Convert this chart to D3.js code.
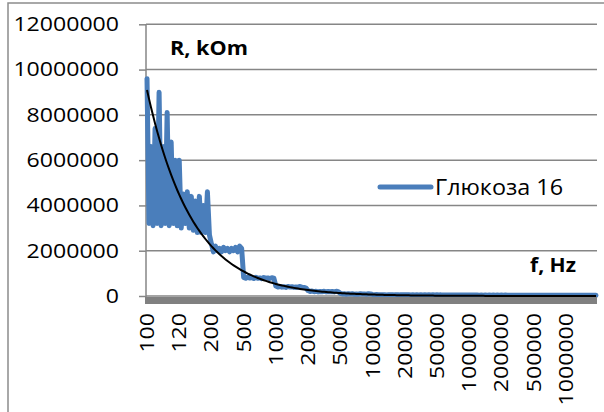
<!DOCTYPE html>
<html>
<head>
<meta charset="utf-8">
<script src="https://cdn.jsdelivr.net/npm/d3@7"></script>
<style>
  body { margin: 0; background: #fff; }
  text { font-family: 'Open Sans', sans-serif; fill: #000; }
</style>
</head>
<body>
<svg id="chart" width="604" height="412"></svg>
<script>
// frequency labels (one per block of repeated measurements)
const freqLabels = ['100', '120', '200', '500', '1000', '2000', '5000', '10000',
  '20000', '50000', '100000', '200000', '500000', '1000000']

// R values, 16 readings per frequency
const r100 = [9.6e6, 3.2e6, 6.6e6, 3.1e6, 7.4e6, 3.2e6, 9.0e6, 3.1e6,
  6.6e6, 3.2e6, 8.1e6, 3.1e6, 6.8e6, 3.2e6, 6.0e6, 3.1e6]
const r120 = [6.0e6, 3.0e6, 4.5e6, 3.2e6, 4.6e6, 3.0e6, 4.4e6, 2.9e6,
  4.2e6, 2.8e6, 4.4e6, 2.8e6, 4.0e6, 2.8e6, 4.6e6, 2.7e6]
const r200 = [2.3e6, 1.95e6, 2.2e6, 2.0e6, 2.1e6, 1.95e6, 2.15e6, 2.0e6,
  2.1e6, 1.95e6, 2.1e6, 2.0e6, 2.15e6, 1.95e6, 2.2e6, 2.1e6]
const r500 = [820000, 780000, 840000, 790000, 810000, 770000, 830000, 780000,
  800000, 760000, 820000, 780000, 800000, 770000, 810000, 790000]
const r1000 = [440000, 400000, 420000, 390000, 410000, 380000, 420000, 400000,
  410000, 380000, 400000, 390000, 420000, 380000, 380000, 350000]
const r2000 = [240000, 200000, 220000, 190000, 210000, 180000, 200000, 190000,
  210000, 180000, 200000, 190000, 200000, 180000, 210000, 190000]
const r5000 = [120000, 90000, 100000, 80000, 100000, 90000, 100000, 80000,
  90000, 80000, 100000, 90000, 90000, 80000, 100000, 90000]
const r10000 = [70000, 60000, 65000, 55000, 60000, 55000, 60000, 50000,
  60000, 55000, 60000, 50000, 55000, 50000, 60000, 55000]
const r20000 = [55000, 50000, 55000, 45000, 50000, 45000, 50000, 45000,
  50000, 45000, 50000, 45000, 50000, 45000, 50000, 45000]
const r50000 = [50000, 45000, 50000, 40000, 45000, 40000, 45000, 40000,
  45000, 40000, 45000, 40000, 45000, 40000, 45000, 40000]
const r100000 = [45000, 40000, 45000, 40000, 40000, 38000, 42000, 38000,
  42000, 38000, 40000, 38000, 42000, 38000, 40000, 38000]
const r200000 = [40000, 36000, 40000, 36000, 38000, 35000, 38000, 35000,
  38000, 35000, 38000, 35000, 38000, 35000, 38000, 35000]
const r500000 = [36000, 33000, 35000, 32000, 35000, 32000, 34000, 32000,
  34000, 32000, 34000, 31000, 34000, 31000, 33000, 31000]
const r1000000 = [33000, 30000, 32000, 30000, 32000, 29000, 31000, 29000,
  31000, 29000, 30000, 28000, 30000, 28000, 30000, 28000]

const seriesName = 'Глюкоза 16'
const yTicks = [0, 2000000, 4000000, 6000000, 8000000, 10000000, 12000000]

// exponential trendline: start value and decay per frequency block
const trendStart = 9.1e6
const trendDecayPerBlock = 0.709

const blocks = [r100, r120, r200, r500, r1000, r2000, r5000, r10000,
  r20000, r50000, r100000, r200000, r500000, r1000000]
const perBlock = r100.length

const data = []
blocks.forEach((b, bi) => b.forEach((v, j) => data.push({ i: bi * perBlock + j, value: v })))

const svg = d3.select('#chart')
const plotLeft = 146, plotRight = 597, plotTop = 24.3, zeroY = 296
const digitW = 13.2 // wide digits of the original font

const x = d3.scalePoint().domain(data.map(d => d.i)).range([plotLeft, plotRight]).padding(0.5)
const y = d3.scaleLinear().domain([0, 12000000]).range([zeroY, plotTop])

// outer frame
svg.append('rect')
  .attr('x', 8).attr('y', 3).attr('width', 640).attr('height', 440)
  .attr('fill', 'none').attr('stroke', '#8c8c8c').attr('stroke-width', 1.5)

// gridlines
svg.append('g')
  .selectAll('line')
  .data(yTicks)
  .enter()
  .append('line')
  .attr('x1', plotLeft).attr('x2', plotRight)
  .attr('y1', d => y(d)).attr('y2', d => y(d))
  .attr('stroke', '#868686').attr('stroke-width', 1.5)

// y axis
const yAxis = svg.append('g')
  .attr('transform', `translate(${plotLeft},0)`)
  .call(d3.axisLeft(y).tickValues(yTicks).tickSize(7).tickPadding(20).tickFormat(d3.format('d')))
yAxis.select('.domain').remove()
yAxis.selectAll('.tick line').attr('stroke', '#868686').attr('stroke-width', 1.5)
yAxis.selectAll('.tick text')
  .attr('font-family', "'Open Sans', sans-serif")
  .attr('font-size', '20px')
  .attr('fill', '#000')
  .attr('textLength', function () { return this.textContent.length * digitW })
  .attr('lengthAdjust', 'spacingAndGlyphs')
svg.append('line')
  .attr('x1', plotLeft).attr('x2', plotLeft).attr('y1', plotTop).attr('y2', zeroY + 8)
  .attr('stroke', '#868686').attr('stroke-width', 1.5)

// series line
const line = d3.line().x(d => x(d.i)).y(d => y(d.value))
svg.append('path')
  .datum(data)
  .attr('d', line)
  .attr('fill', 'none')
  .attr('stroke', '#4a7ebb')
  .attr('stroke-width', 5)
  .attr('stroke-linejoin', 'round')
  .attr('stroke-linecap', 'round')

// trendline
const trend = data.map(d => ({ i: d.i, value: trendStart * Math.exp(-trendDecayPerBlock * d.i / perBlock) }))
svg.append('path')
  .datum(trend)
  .attr('d', line)
  .attr('fill', 'none')
  .attr('stroke', '#000')
  .attr('stroke-width', 2)

// horizontal axis band
svg.append('rect')
  .attr('x', plotLeft - 1).attr('y', zeroY + 1)
  .attr('width', plotRight - plotLeft + 1).attr('height', 7)
  .attr('fill', '#808080')

// category labels
svg.append('g')
  .selectAll('text')
  .data(freqLabels)
  .enter()
  .append('text')
  .attr('transform', (d, k) => `translate(${x(k * perBlock)},313) rotate(-90)`)
  .attr('text-anchor', 'end')
  .attr('dy', '0.35em')
  .attr('font-size', '20px')
  .attr('textLength', d => d.length * digitW)
  .attr('lengthAdjust', 'spacingAndGlyphs')
  .text(d => d)

// axis titles
svg.append('text')
  .attr('x', 170).attr('y', 55)
  .attr('font-size', '20px').attr('font-weight', 'bold')
  .attr('textLength', 78).attr('lengthAdjust', 'spacingAndGlyphs')
  .text('R, kOm')
svg.append('text')
  .attr('x', 530).attr('y', 272)
  .attr('font-size', '20px').attr('font-weight', 'bold')
  .attr('textLength', 46).attr('lengthAdjust', 'spacingAndGlyphs')
  .text('f, Hz')

// legend
svg.append('line')
  .attr('x1', 380).attr('x2', 431).attr('y1', 187).attr('y2', 187)
  .attr('stroke', '#4a7ebb').attr('stroke-width', 5).attr('stroke-linecap', 'round')
svg.append('text')
  .attr('x', 435).attr('y', 195)
  .attr('font-size', '21px')
  .attr('textLength', 128).attr('lengthAdjust', 'spacingAndGlyphs')
  .text(seriesName)
</script>
</body>
</html>
